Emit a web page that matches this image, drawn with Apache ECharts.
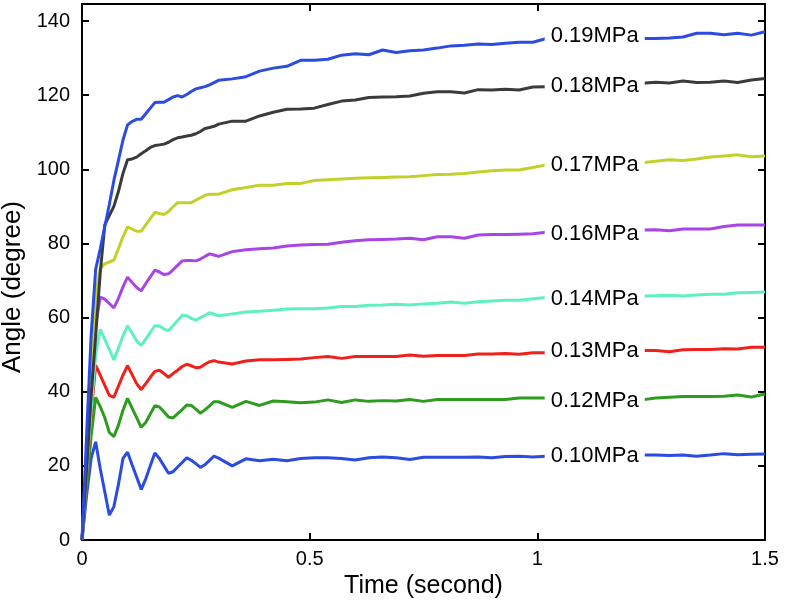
<!DOCTYPE html>
<html><head><meta charset="utf-8">
<script src="https://cdn.jsdelivr.net/npm/echarts@6/dist/echarts.min.js"></script>
<style>html,body{margin:0;padding:0;background:#fff}#c{width:792px;height:606px}</style>
</head><body><div id="c"></div>
<script>
// time (second)
const times = [0,0.01,0.02,0.03,0.04,0.05,0.06,0.07,0.08,0.09,0.10,0.11,0.12,0.13,0.14,0.15,0.16,0.17,0.18,0.19,0.20,0.21,0.22,0.23,0.24,0.25,0.26,0.27,0.28,0.29,0.30,
  0.33,0.36,0.39,0.42,0.45,0.48,0.51,0.54,0.57,0.60,0.63,0.66,0.69,0.72,0.75,0.78,0.81,0.84,0.87,0.90,0.93,0.96,0.99,1.02,1.05,1.08,1.11,1.14,1.17,1.20,1.23,1.26,1.29,1.32,1.35,1.38,1.41,1.44,1.47,1.50];
// angle (degree) per pressure
const angle010 = [0,12,22,26.5,19.3,13,6.7,9,15,22,23.7,20.3,17,13.6,16.5,20,23.5,22,20,18,18.4,19.7,20.9,22.2,21.5,20.6,19.6,20.3,21.5,22.6,22.1,
  20.0,21.9,21.4,21.8,21.4,22.0,22.2,22.2,22.0,21.6,22.2,22.4,22.2,21.7,22.3,22.3,22.3,22.3,22.4,22.2,22.5,22.6,22.4,22.6,22.7,22.7,22.8,22.8,22.8,22.9,22.9,22.9,22.8,22.9,22.6,22.9,23.3,23.0,23.1,23.2];
const angle012 = [0,14,28,38.5,36,33,29,27.9,31,35,38.2,35.6,33,30.4,31.7,34,36.2,35.9,34.6,33.2,32.9,34.1,35.2,36.4,36.3,35.3,34.2,35.1,36.2,37.3,37.3,
  35.8,37.4,36.3,37.5,37.3,37.0,37.2,37.8,37.1,37.8,37.4,37.6,37.5,37.9,37.4,37.9,37.9,37.9,37.9,37.9,37.9,38.3,38.3,38.3,38.2,38.1,38.0,37.9,37.9,37.8,37.8,38.3,38.5,38.7,38.7,38.7,38.8,39.1,38.6,39.4];
const angle013 = [0,17,34,47.2,44.5,41.7,39.0,38.5,41.5,44.5,47.0,44.6,42.2,40.6,42.2,43.9,45.5,45.8,44.9,43.9,44.9,45.8,46.8,47.4,47.0,46.5,46.6,47.4,48.1,48.4,48.0,
  47.5,48.3,48.6,48.6,48.7,48.8,49.2,49.5,49.0,49.5,49.5,49.5,49.5,49.9,49.6,49.8,49.8,49.8,50.2,50.2,50.3,50.1,50.5,50.5,50.6,50.7,50.8,50.9,51.0,51.0,51.1,51.1,50.8,51.3,51.4,51.4,51.6,51.5,52.0,52.0];
const angle014 = [0,18,35,50,56.8,54.1,51.4,48.6,51.8,55.1,57.8,55.8,53.7,52.5,54.2,56.0,57.8,57.7,56.9,56.5,57.8,59.2,60.6,60.5,59.8,59.3,60.0,60.6,61.3,60.9,60.5,
  61.0,61.5,61.7,62.0,62.3,62.4,62.4,62.6,63.0,63.0,63.3,63.4,63.6,63.4,63.7,63.9,64.2,63.9,64.3,64.5,64.7,64.7,65.1,65.4,65.5,65.5,65.6,65.6,65.7,65.7,65.8,65.9,66.0,65.8,66.1,66.3,66.3,66.7,66.8,66.9];
const angle016 = [0,20,40,58,65.5,65.0,63.8,62.6,65.2,68.3,70.9,69.5,68.1,67.2,69.2,71.0,72.8,72.3,71.6,71.8,72.9,74.1,75.3,75.4,75.4,75.3,75.8,76.5,77.2,76.9,76.5,
  77.8,78.3,78.6,78.8,79.3,79.6,79.7,79.8,80.3,80.7,81.0,81.1,81.2,81.4,81.0,81.8,81.8,81.4,82.3,82.4,82.4,82.5,82.6,83.0,83.1,83.2,83.3,83.4,83.5,83.5,83.6,83.7,83.4,83.9,83.9,83.9,84.6,85.0,85.0,85.0];
const angle017 = [0,22,45,66,73.2,74.5,75.0,75.5,78.6,81.8,84.5,83.9,83.3,83.3,85.0,86.7,88.4,88.1,87.8,88.6,89.9,91.0,91.0,91.0,91.0,91.7,92.3,93.0,93.3,93.3,93.3,
  94.5,95.1,95.7,95.7,96.2,96.2,97.0,97.2,97.4,97.6,97.7,97.8,97.9,98.0,98.3,98.6,98.7,98.9,99.3,99.6,99.8,99.8,100.5,101.2,101.3,101.4,101.5,101.6,101.7,101.7,101.8,102.2,102.6,102.4,102.8,103.3,103.6,103.9,103.4,103.6];
const angle018 = [0,19,39,55,72,85,87.5,90,94,98.9,102.6,102.8,103.3,104.2,105.0,105.9,106.4,106.6,106.8,107.3,108.0,108.5,108.7,109.0,109.2,109.6,110.2,111.0,111.3,111.6,112.2,
  113.0,113.0,114.4,115.4,116.2,116.3,116.5,117.5,118.4,118.7,119.4,119.5,119.6,119.8,120.5,120.9,120.9,120.6,121.5,121.4,121.6,121.4,122.2,122.3,122.4,122.6,122.7,122.8,123.0,123.1,123.2,123.5,123.3,123.8,123.4,123.5,123.8,123.4,124.1,124.5];
const angle019 = [0,28,55,73,78.5,84.5,90.5,97,102.4,107.9,112,112.9,113.5,113.5,115,116.5,118,118.1,118.1,118.8,119.5,119.9,119.5,120.2,121.0,121.7,122.0,122.3,122.8,123.4,124.0,
  124.4,125.0,126.5,127.3,127.8,129.4,129.4,129.7,130.8,131.2,130.9,132.2,131.5,132.0,132.2,132.7,133.3,133.5,133.8,133.7,134.0,134.3,134.3,135.3,135.3,135.3,135.3,135.3,135.3,135.3,135.3,135.3,135.4,135.7,136.7,136.7,136.3,136.7,136.2,137.1];

const seriesNames = ['0.10MPa','0.12MPa','0.13MPa','0.14MPa','0.16MPa','0.17MPa','0.18MPa','0.19MPa'];
const seriesValues = [angle010, angle012, angle013, angle014, angle016, angle017, angle018, angle019];
const seriesColors = ['#2b4be2','#2e9c1e','#f0201c','#5ef0bf','#a845e6','#c2d12a','#3b3b3b','#2b4be2'];
const labelTime = 1.126;
const labelAngle = [22.7, 37.6, 51.1, 64.9, 82.7, 101.2, 122.5, 135.9];
const xTicks = [0, 0.5, 1, 1.5];
const yTicks = [0, 20, 40, 60, 80, 100, 120, 140];

const FONT = "'Liberation Sans', Arial, Helvetica, sans-serif";
const chart = echarts.init(document.getElementById('c'), null, {renderer: 'canvas'});

const series = seriesValues.map((vals, i) => ({
  type: 'line',
  name: seriesNames[i],
  xAxisIndex: 0, yAxisIndex: 0,
  data: times.map((t, j) => [t, vals[j]]),
  showSymbol: false,
  lineStyle: {color: seriesColors[i], width: 3},
  itemStyle: {color: seriesColors[i]},
  z: 2,
  markPoint: {
    symbol: 'rect', symbolSize: 0, silent: true, z: 50,
    data: [{coord: [labelTime, labelAngle[i]], value: seriesNames[i]}],
    label: {show: true, position: 'inside', formatter: seriesNames[i], color: '#000',
      fontFamily: FONT, fontSize: 22, backgroundColor: '#fff', padding: [3, 6, 1, 6]}
  }
}));

const axisCommon = {
  min: 0, axisLine: {show: true, onZero: false, lineStyle: {color: '#000', width: 2}},
  axisTick: {show: true, inside: true, length: 7, lineStyle: {color: '#000', width: 2}},
  splitLine: {show: false}
};

chart.setOption({
  animation: false,
  backgroundColor: '#fff',
  grid: {left: 82, right: 27, top: 4, bottom: 66, containLabel: false, outerBoundsMode: 'none'},
  xAxis: [
    Object.assign({}, axisCommon, {type: 'value', position: 'bottom', max: 1.5, interval: 0.5,
      name: 'Time (second)', nameLocation: 'middle', nameGap: 26,
      nameTextStyle: {fontFamily: FONT, fontSize: 25, color: '#000'},
      axisLabel: {margin: 9, fontFamily: FONT, fontSize: 20, color: '#000',
        formatter: v => xTicks.indexOf(v) >= 0 ? String(v) : ''}}),
    Object.assign({}, axisCommon, {type: 'value', position: 'top', max: 1.5, interval: 0.5,
      axisLabel: {show: false}})
  ],
  yAxis: [
    Object.assign({}, axisCommon, {type: 'value', position: 'left', max: 144.6, interval: 20,
      name: 'Angle (degree)', nameLocation: 'middle', nameGap: 52, nameRotate: 90,
      nameTextStyle: {fontFamily: FONT, fontSize: 26, color: '#000', padding: [0, 30, 0, 0]},
      axisLabel: {margin: 12, fontFamily: FONT, fontSize: 20, color: '#000',
        formatter: v => yTicks.indexOf(v) >= 0 ? String(v) : ''}}),
    Object.assign({}, axisCommon, {type: 'value', position: 'right', max: 144.6, interval: 20,
      axisLabel: {show: false}})
  ],
  series: series
});
</script></body></html>
